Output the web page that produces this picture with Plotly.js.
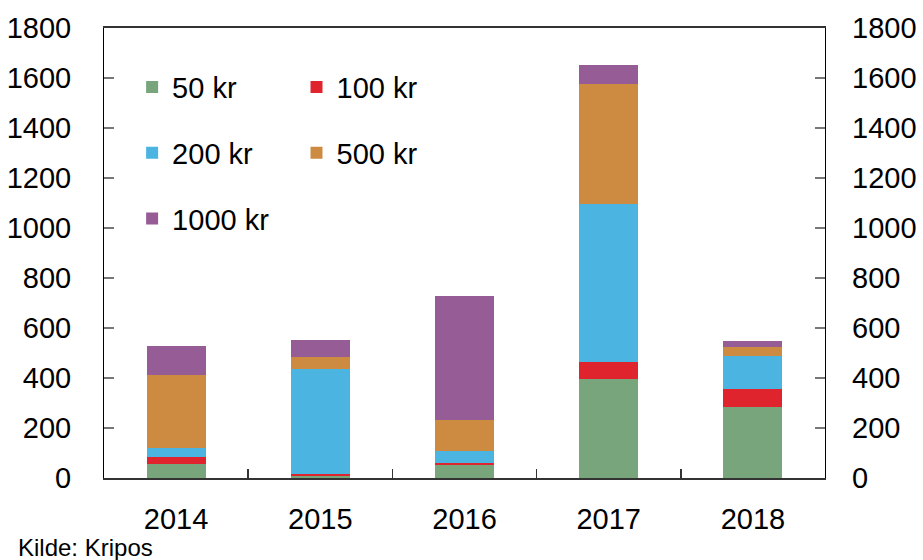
<!DOCTYPE html>
<html>
<head>
<meta charset="utf-8">
<script src="https://cdn.plot.ly/plotly-3.0.1.min.js"></script>
<style>
  html, body { margin: 0; padding: 0; background: #fff; }
  #chart { width: 923px; height: 560px; }
</style>
</head>
<body>
<div id="chart"></div>
<script>
// ---- data ----
const years = ['2014', '2015', '2016', '2017', '2018'];
const kr50   = [58, 10, 54, 396, 286];
const kr100  = [27, 8, 8, 67, 72];
const kr200  = [36, 419, 47, 634, 131];
const kr500  = [291, 47, 124, 480, 36];
const kr1000 = [118, 68, 495, 75, 23];
const seriesNames = ['50 kr', '100 kr', '200 kr', '500 kr', '1000 kr'];
const yTicks = [0, 200, 400, 600, 800, 1000, 1200, 1400, 1600, 1800];
const sourceText = 'Kilde: Kripos';

const colors = ['#79A57D', '#E0242E', '#4BB4E1', '#CD8B41', '#965C96'];
const legendOf = ['legend', 'legend2', 'legend', 'legend2', 'legend'];
const values = [kr50, kr100, kr200, kr500, kr1000];

const FONT = 'Liberation Sans, Arial, sans-serif';

const traces = values.map((v, i) => ({
  type: 'bar',
  name: seriesNames[i],
  x: years,
  y: v,
  marker: { color: colors[i], line: { width: 0 } },
  legend: legendOf[i],
  legendgroup: 'g' + i,
  hoverinfo: 'x+y+name'
}));

const axisTickFont = { family: FONT, size: 29, color: '#000' };

const layout = {
  width: 923,
  height: 560,
  margin: { l: 104, r: 98, t: 28, b: 82 },
  paper_bgcolor: '#fff',
  plot_bgcolor: '#fff',
  barmode: 'stack',
  bargap: 0.59,
  showlegend: true,
  font: { family: FONT, color: '#000' },
  xaxis: {
    type: 'category',
    showgrid: false,
    showline: true,
    linecolor: '#333',
    linewidth: 2,
    mirror: true,
    ticks: 'inside',
    tickson: 'boundaries',
    ticklen: 9,
    tickcolor: '#333',
    tickwidth: 1.5,
    tickfont: axisTickFont,
    ticklabelstandoff: 14,
    fixedrange: true
  },
  yaxis: {
    range: [0, 1800],
    tickvals: yTicks,
    showgrid: false,
    zeroline: false,
    showline: true,
    linecolor: '#000',
    linewidth: 1,
    mirror: 'ticks',
    ticks: 'inside',
    ticklen: 10,
    tickcolor: '#777',
    tickwidth: 1.5,
    tickfont: axisTickFont,
    ticklabelstandoff: 26,
    fixedrange: true
  },
  yaxis2: {
    overlaying: 'y',
    side: 'right',
    range: [0, 1800],
    tickvals: yTicks,
    showgrid: false,
    zeroline: false,
    showline: false,
    ticks: '',
    tickfont: axisTickFont,
    ticklabelstandoff: 26,
    fixedrange: true
  },
  legend: {
    x: 0.039, xanchor: 'left',
    y: 0.925, yanchor: 'top',
    bgcolor: 'rgba(0,0,0,0)',
    font: { family: FONT, size: 29, color: '#000' },
    traceorder: 'grouped',
    tracegroupgap: 25
  },
  legend2: {
    x: 0.267, xanchor: 'left',
    y: 0.925, yanchor: 'top',
    bgcolor: 'rgba(0,0,0,0)',
    font: { family: FONT, size: 29, color: '#000' },
    traceorder: 'grouped',
    tracegroupgap: 25
  },
  annotations: [{
    text: sourceText,
    xref: 'paper', yref: 'paper',
    x: -88 / 720, xanchor: 'left',
    y: -(547 - 478) / 450, yanchor: 'middle',
    showarrow: false,
    font: { family: FONT, size: 24, color: '#000' }
  }]
};

// an invisible point so the right-hand axis (yaxis2) is drawn with its labels
traces.push({
  type: 'scatter', x: [years[0]], y: [0], yaxis: 'y2',
  mode: 'markers', marker: { opacity: 0 }, showlegend: false, hoverinfo: 'skip'
});

Plotly.newPlot('chart', traces, layout, { displayModeBar: false, staticPlot: true });
</script>
</body>
</html>
